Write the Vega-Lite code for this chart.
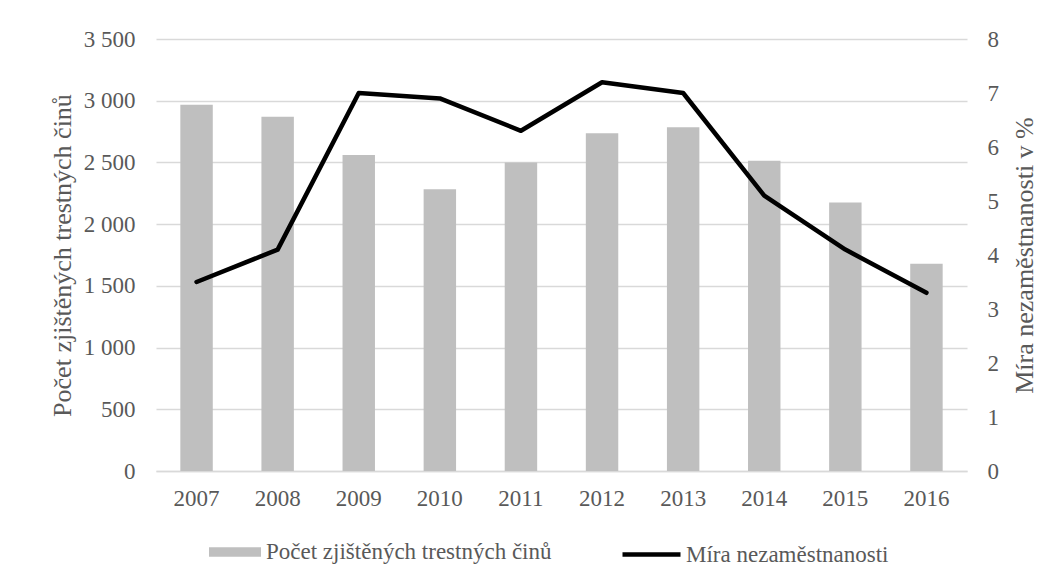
{
  "$schema": "https://vega.github.io/schema/vega-lite/v6.json",
  "autosize": {"type": "none"},
  "padding": {"left": 156, "top": 39, "right": 91, "bottom": 111},
  "width": 811,
  "height": 432,
  "background": "#ffffff",
  "config": {
    "font": "Times New Roman, Liberation Serif, DejaVu Serif, serif",
    "view": {"stroke": null},
    "axis": {
      "labelFont": "Times New Roman, Liberation Serif, DejaVu Serif, serif",
      "titleFont": "Times New Roman, Liberation Serif, DejaVu Serif, serif",
      "labelColor": "#595959",
      "titleColor": "#595959",
      "labelFontSize": 23,
      "titleFontSize": 26,
      "titleFontWeight": "normal",
      "ticks": false
    },
    "legend": {
      "labelFont": "Times New Roman, Liberation Serif, DejaVu Serif, serif",
      "labelFontSize": 23,
      "labelColor": "#595959",
      "labelLimit": 500
    }
  },
  "data": {
    "values": [
      {"rok": "2007", "pocet": 2968, "mira": 3.5},
      {"rok": "2008", "pocet": 2871, "mira": 4.1},
      {"rok": "2009", "pocet": 2561, "mira": 7.0},
      {"rok": "2010", "pocet": 2283, "mira": 6.9},
      {"rok": "2011", "pocet": 2499, "mira": 6.3},
      {"rok": "2012", "pocet": 2736, "mira": 7.2},
      {"rok": "2013", "pocet": 2785, "mira": 7.0},
      {"rok": "2014", "pocet": 2513, "mira": 5.1},
      {"rok": "2015", "pocet": 2175, "mira": 4.1},
      {"rok": "2016", "pocet": 1679, "mira": 3.3}
    ]
  },
  "encoding": {
    "x": {
      "field": "rok",
      "type": "ordinal",
      "scale": {"paddingInner": 0.6, "paddingOuter": 0.3},
      "axis": {
        "title": null,
        "labelAngle": 0,
        "labelPadding": 16,
        "domainColor": "#D9D9D9",
        "domainWidth": 1.3
      }
    }
  },
  "layer": [
    {
      "mark": {"type": "bar"},
      "encoding": {
        "y": {
          "field": "pocet",
          "type": "quantitative",
          "scale": {"domain": [0, 3500]},
          "axis": {
            "title": "Počet zjištěných trestných činů",
            "orient": "left",
            "values": [0, 500, 1000, 1500, 2000, 2500, 3000, 3500],
            "labelExpr": "replace(format(datum.value, ','), ',', ' ')",
            "domain": false,
            "grid": true,
            "gridColor": "#D9D9D9",
            "gridWidth": 1.3,
            "labelPadding": 21,
            "titlePadding": 8
          }
        },
        "fill": {
          "datum": "Počet zjištěných trestných činů",
          "scale": {"range": ["#BFBFBF"]},
          "legend": {
            "title": null,
            "orient": "none",
            "legendX": 53,
            "legendY": 487,
            "symbolType": "M-1,-0.183H1V0.183H-1Z",
            "symbolSize": 2704,
            "symbolStrokeWidth": 0,
            "labelOffset": 5
          }
        }
      }
    },
    {
      "mark": {"type": "line", "strokeWidth": 4.5, "strokeCap": "round", "strokeJoin": "round"},
      "encoding": {
        "y": {
          "field": "mira",
          "type": "quantitative",
          "scale": {"domain": [0, 8]},
          "axis": {
            "title": "Míra nezaměstnanosti v %",
            "orient": "right",
            "values": [0, 1, 2, 3, 4, 5, 6, 7, 8],
            "domain": false,
            "grid": false,
            "labelPadding": 20,
            "titleAngle": 270,
            "titleBaseline": "top",
            "titlePadding": 13
          }
        },
        "stroke": {
          "datum": "Míra nezaměstnanosti",
          "scale": {"range": ["#000000"]},
          "legend": {
            "title": null,
            "orient": "none",
            "legendX": 464,
            "legendY": 484,
            "symbolType": "stroke",
            "symbolSize": 3364,
            "symbolStrokeWidth": 4.5,
            "labelOffset": 3
          }
        }
      }
    }
  ],
  "resolve": {"scale": {"y": "independent"}}
}
